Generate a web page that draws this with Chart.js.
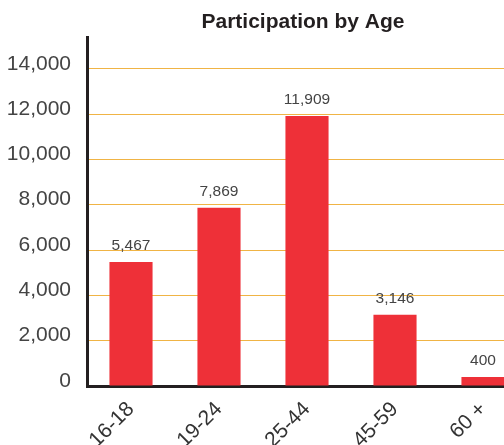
<!DOCTYPE html>
<html>
<head>
<meta charset="utf-8">
<script src="https://cdn.jsdelivr.net/npm/chart.js@4/dist/chart.umd.min.js"></script>
<style>
  html, body { margin: 0; padding: 0; background: #fff; overflow: hidden; }
  #wrap { width: 527px; height: 445px; }
</style>
</head>
<body>
<div id="wrap"><canvas id="chart" width="527" height="445"></canvas></div>
<script>
const ageGroups = ['16-18', '19-24', '25-44', '45-59', '60 +'];
const participants = [5467, 7869, 11909, 3146, 400];
const yTicks = [0, 2000, 4000, 6000, 8000, 10000, 12000, 14000];
const chartTitle = 'Participation by Age';

const FONT = "'Liberation Sans', Helvetica, Arial, sans-serif";

// value labels above each bar, plus the title centred over the plot
const barLabels = {
  id: 'barLabels',
  afterDatasetsDraw(chart) {
    const ctx = chart.ctx;
    const area = chart.chartArea;
    const meta = chart.getDatasetMeta(0);
    ctx.save();
    ctx.font = '15.5px ' + FONT;
    ctx.fillStyle = '#444';
    ctx.textAlign = 'center';
    ctx.textBaseline = 'alphabetic';
    meta.data.forEach((bar, i) => {
      ctx.fillText(participants[i].toLocaleString('en-US'), bar.x, bar.y - 12);
    });

    ctx.font = 'bold 21px ' + FONT;
    ctx.fillStyle = '#231f20';
    ctx.textBaseline = 'middle';
    ctx.fillText(chartTitle, (area.left + area.right) / 2 - 4, 22);
    ctx.restore();
  },
};

new Chart(document.getElementById('chart'), {
  type: 'bar',
  data: {
    labels: ageGroups,
    datasets: [
      {
        label: 'Participants',
        data: participants,
        backgroundColor: '#ee3038',
        borderWidth: 0,
        barPercentage: 0.49,
        categoryPercentage: 1,
      },
    ],
  },
  options: {
    responsive: false,
    animation: false,
    layout: { padding: { left: 0, right: 0, top: 37, bottom: 0 } },
    plugins: {
      legend: { display: false },
      tooltip: { enabled: false },
      title: { display: false },
    },
    scales: {
      x: {
        grid: { display: false, drawTicks: false },
        border: { display: true, color: '#231f20', width: 3 },
        ticks: {
          color: '#333',
          font: { family: FONT, size: 21 },
          minRotation: 45,
          maxRotation: 45,
          padding: 11,
        },
        afterFit(scale) { scale.height = 59; },
      },
      y: {
        min: 0,
        max: 15400,
        afterBuildTicks(scale) {
          scale.ticks = yTicks.map((v) => ({ value: v }));
        },
        grid: { color: '#f0b445', lineWidth: 1, drawTicks: false },
        border: { display: true, color: '#231f20', width: 3 },
        ticks: {
          color: '#444',
          font: { family: FONT, size: 21 },
          padding: 16,
          labelOffset: -5,
          callback: (v) => v.toLocaleString('en-US'),
        },
        afterFit(scale) { scale.width = 87; },
      },
    },
  },
  plugins: [barLabels],
});
</script>
</body>
</html>
